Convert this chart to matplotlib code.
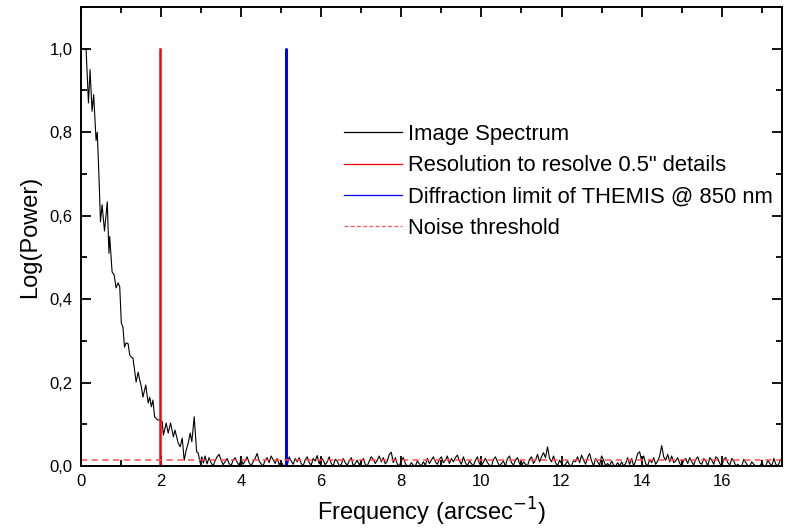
import numpy as np
import matplotlib.pyplot as plt
from matplotlib.lines import Line2D
from matplotlib.ticker import MultipleLocator, FuncFormatter

plt.rcParams['font.family'] = ['Liberation Sans', 'DejaVu Sans']

# low-frequency part of the spectrum
freq_low = [0.13, 0.19, 0.23, 0.28, 0.32, 0.38, 0.41, 0.45, 0.49, 0.53,
            0.59, 0.66, 0.70, 0.72, 0.78, 0.83, 0.88, 0.93, 0.97, 1.01,
            1.05, 1.09, 1.13, 1.18, 1.22, 1.26, 1.30, 1.34, 1.38, 1.43,
            1.47, 1.51, 1.55, 1.62, 1.68, 1.72, 1.76, 1.80, 1.84, 1.89,
            1.93, 1.98, 2.03, 2.06, 2.10, 2.13, 2.18, 2.24, 2.31, 2.35,
            2.43, 2.48, 2.53, 2.58, 2.63, 2.68, 2.73, 2.77, 2.83, 2.89,
            2.93, 2.98, 3.02, 3.06, 3.10]
power_low = [1.0, 0.87, 0.95, 0.85, 0.89, 0.78, 0.80, 0.70, 0.585, 0.626,
             0.563, 0.633, 0.51, 0.55, 0.465, 0.458, 0.427, 0.439, 0.43, 0.343,
             0.333, 0.285, 0.295, 0.293, 0.266, 0.261, 0.259, 0.23, 0.201, 0.225,
             0.206, 0.19, 0.165, 0.194, 0.151, 0.165, 0.142, 0.158, 0.118, 0.113,
             0.11, 0.11, 0.106, 0.074, 0.09, 0.103, 0.079, 0.103, 0.07, 0.086,
             0.055, 0.046, 0.067, 0.014, 0.038, 0.055, 0.079, 0.058, 0.118, 0.034,
             0.031, 0.007, 0.022, 0.007, 0.024]

# noise floor, 3.15 .. 17.5 every 0.05, in units of 0.001
freq_noise = np.round(np.arange(3.15, 17.5001, 0.05), 2)
noise_milli = [
    5, 20, 8, 0, 12, 22, 28, 15, 3, 10, 18, 6, 0, 14, 20, 9, 2,
    16, 4, 12, 22, 8, 0, 10, 18, 30, 12, 5, 0, 14, 20, 8, 24, 15, 6, 18, 3,
    10, 2, 0, 0, 22, 12, 4, 18, 10, 20, 6, 0, 15, 22, 8, 2, 18, 12, 25, 5,
    20, 14, 3, 10, 22, 6, 0, 16, 12, 0, 4, 18, 8, 2, 12, 20, 0, 6, 14, 3,
    10, 18, 4, 0, 12, 22, 16, 6, 14, 24, 10, 20, 5, 12, 28, 33, 8, 20, 4, 0,
    14, 20, 6, 0, 0, 8, 2, 0, 12, 5, 0, 10, 2, 18, 6, 14, 22, 10, 4, 16,
    22, 8, 14, 24, 6, 18, 10, 20, 26, 12, 4, 22, 8, 0, 12, 6, 0, 14, 22, 6,
    0, 10, 18, 8, 2, 0, 16, 22, 10, 0, 6, 12, 0, 18, 24, 8, 2, 14, 20, 6,
    0, 10, 4, 0, 16, 22, 6, 14, 28, 10, 22, 32, 20, 46, 18, 10, 24, 8, 0, 14,
    6, 0, 4, 12, 2, 0, 14, 10, 22, 8, 26, 14, 4, 20, 30, 12, 0, 18, 10, 2,
    24, 14, 0, 6, 0, 12, 2, 0, 8, 0, 10, 0, 6, 20, 4, 18, 0, 12, 30, 34,
    12, 24, 6, 0, 16, 8, 20, 4, 12, 24, 49, 22, 14, 28, 10, 24, 8, 12, 20, 6,
    0, 14, 18, 6, 20, 10, 2, 16, 22, 8, 4, 18, 12, 0, 20, 14, 4, 22, 18, 6,
    0, 16, 20, 8, 2, 18, 12, 0, 4, 0, 0, 16, 8, 0, 0, 10, 4, 0, 0, 0,
    8, 0, 0, 14, 6, 0, 18, 4, 0, 12, 20]

resolution_freq = 1.98
diffraction_freq = 5.12
noise_level = 0.015

freq = np.concatenate([freq_low, freq_noise])
power = np.concatenate([power_low, np.array(noise_milli) / 1000.0])

fig = plt.figure(figsize=(7.85, 5.31), dpi=100)
ax = fig.add_axes([0.103, 0.1224, 0.893, 0.8644])

ax.plot(freq, power, color='black', lw=0.8)
ax.plot([resolution_freq, resolution_freq], [0, 1.0], color='red', lw=1.8)
ax.plot([0, diffraction_freq, diffraction_freq, diffraction_freq, 17.5],
        [0, 0, 1.0, 0, 0], color='blue', lw=1.8)
ax.axhline(noise_level, color='#ff4d4d', lw=1.1, ls=(0, (4, 3)))

ax.set_xlim(0, 17.5)
ax.set_ylim(0, 1.1)
ax.xaxis.set_major_locator(MultipleLocator(2))
ax.xaxis.set_minor_locator(MultipleLocator(1))
ax.yaxis.set_major_locator(MultipleLocator(0.2))
ax.yaxis.set_minor_locator(MultipleLocator(0.1))
ax.yaxis.set_major_formatter(FuncFormatter(lambda v, p: f"{v:.1f}".replace('.', ',')))
ax.tick_params(which='both', direction='in', top=True, right=True, labelsize=12, width=1.3)
ax.tick_params(which='major', length=7, pad=6)
ax.tick_params(which='minor', length=4)
for s in ax.spines.values():
    s.set_linewidth(1.4)

ax.set_xlabel("Frequency (arcsec$^{-1}$)", fontsize=17, labelpad=5)
ax.set_ylabel("Log(Power)", fontsize=17, labelpad=6)

handles = [Line2D([], [], color='black', lw=0.9),
           Line2D([], [], color='red', lw=0.9),
           Line2D([], [], color='blue', lw=0.9),
           Line2D([], [], color='#ff4d4d', lw=0.9, ls=(0, (3, 2)))]
labels = ["Image Spectrum", "Resolution to resolve 0.5\" details",
          "Diffraction limit of THEMIS @ 850 nm", "Noise threshold"]
ax.legend(handles, labels, loc='upper left', bbox_to_anchor=(0.375, 0.745),
          frameon=False, fontsize=15.8, handlelength=2.65, handletextpad=0.3,
          labelspacing=0.47, borderpad=0, borderaxespad=0)

fig.savefig("out.png", dpi=100)
